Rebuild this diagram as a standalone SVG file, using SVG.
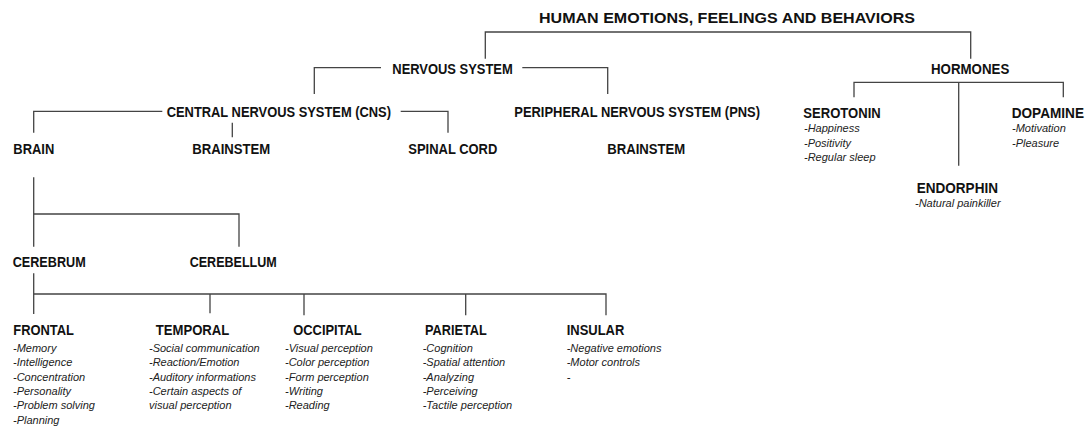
<svg xmlns="http://www.w3.org/2000/svg" width="1092" height="430" viewBox="0 0 1092 430">
<style>
.h{font-family:"Liberation Sans",Arial,sans-serif;font-weight:bold;font-size:14.5px;fill:#111}
.t{font-family:"Liberation Sans",Arial,sans-serif;font-weight:bold;font-size:15.5px;fill:#111}
.i{font-family:"Liberation Sans",Arial,sans-serif;font-style:italic;font-size:11px;fill:#222}
.c{fill:none;stroke:#444;stroke-width:1.3}
</style>
<rect width="1092" height="430" fill="#fff"/>
<g id="connectors">
<path class="c" d="M485.3,58.7V32H970.7V58.7"/>
<path class="c" d="M381,67.7H314.3V94"/>
<path class="c" d="M522.3,67.7H607.7V94"/>
<path class="c" d="M162.3,111.3H33.7V132.7"/>
<path class="c" d="M232.3,122.7V137.3"/>
<path class="c" d="M400.7,111.3H448V132.7"/>
<path class="c" d="M33.7,177.3V246.7M33.7,214H239V246.7"/>
<path class="c" d="M33.7,273.3V314M33.7,294H606V315.3M210,294V313.3M304,294V315.3M465.7,294V315.3"/>
<path class="c" d="M854,97.3V82.3H1063.3V97.3M958.7,82.3V165.7"/>
</g>
<g id="title"><text class="t" x="539" y="23" textLength="376" lengthAdjust="spacingAndGlyphs">HUMAN EMOTIONS, FEELINGS AND BEHAVIORS</text></g>
<g id="nervous-system"><text class="h" x="392.3" y="74" textLength="120.4" lengthAdjust="spacingAndGlyphs">NERVOUS SYSTEM</text></g>
<g id="hormones"><text class="h" x="931" y="74" textLength="78.3" lengthAdjust="spacingAndGlyphs">HORMONES</text></g>
<g id="cns"><text class="h" x="166.7" y="116.5" textLength="224.3" lengthAdjust="spacingAndGlyphs">CENTRAL NERVOUS SYSTEM (CNS)</text></g>
<g id="pns"><text class="h" x="514.3" y="116.5" textLength="245.7" lengthAdjust="spacingAndGlyphs">PERIPHERAL NERVOUS SYSTEM (PNS)</text></g>
<g id="brain"><text class="h" x="13.3" y="153.5" textLength="41" lengthAdjust="spacingAndGlyphs">BRAIN</text></g>
<g id="brainstem-cns"><text class="h" x="192.3" y="153.5" textLength="78" lengthAdjust="spacingAndGlyphs">BRAINSTEM</text></g>
<g id="spinal-cord"><text class="h" x="408.3" y="153.5" textLength="89" lengthAdjust="spacingAndGlyphs">SPINAL CORD</text></g>
<g id="brainstem-pns"><text class="h" x="607.3" y="153.5" textLength="78" lengthAdjust="spacingAndGlyphs">BRAINSTEM</text></g>
<g id="cerebrum"><text class="h" x="12.7" y="267" textLength="73" lengthAdjust="spacingAndGlyphs">CEREBRUM</text></g>
<g id="cerebellum"><text class="h" x="189.7" y="267" textLength="87" lengthAdjust="spacingAndGlyphs">CEREBELLUM</text></g>
<g id="frontal"><text class="h" x="13.3" y="335" textLength="60.7" lengthAdjust="spacingAndGlyphs">FRONTAL</text>
<text class="i" x="13" y="352">-Memory</text>
<text class="i" x="13" y="366.3">-Intelligence</text>
<text class="i" x="13" y="380.6">-Concentration</text>
<text class="i" x="13" y="394.9">-Personality</text>
<text class="i" x="13" y="409.2">-Problem solving</text>
<text class="i" x="13" y="423.5">-Planning</text></g>
<g id="temporal"><text class="h" x="155.7" y="335" textLength="73.6" lengthAdjust="spacingAndGlyphs">TEMPORAL</text>
<text class="i" x="149" y="352">-Social communication</text>
<text class="i" x="149" y="366.3">-Reaction/Emotion</text>
<text class="i" x="149" y="380.6">-Auditory informations</text>
<text class="i" x="149" y="394.9">-Certain aspects of</text>
<text class="i" x="149" y="409.2">visual perception</text></g>
<g id="occipital"><text class="h" x="293.3" y="335" textLength="68.4" lengthAdjust="spacingAndGlyphs">OCCIPITAL</text>
<text class="i" x="285" y="352">-Visual perception</text>
<text class="i" x="285" y="366.3">-Color perception</text>
<text class="i" x="285" y="380.6">-Form perception</text>
<text class="i" x="285" y="394.9">-Writing</text>
<text class="i" x="285" y="409.2">-Reading</text></g>
<g id="parietal"><text class="h" x="425" y="335" textLength="61.7" lengthAdjust="spacingAndGlyphs">PARIETAL</text>
<text class="i" x="422.7" y="352">-Cognition</text>
<text class="i" x="422.7" y="366.3">-Spatial attention</text>
<text class="i" x="422.7" y="380.6">-Analyzing</text>
<text class="i" x="422.7" y="394.9">-Perceiving</text>
<text class="i" x="422.7" y="409.2">-Tactile perception</text></g>
<g id="insular"><text class="h" x="566.7" y="335" textLength="57.6" lengthAdjust="spacingAndGlyphs">INSULAR</text>
<text class="i" x="566.7" y="352">-Negative emotions</text>
<text class="i" x="566.7" y="366.3">-Motor controls</text>
<text class="i" x="566.7" y="380.6">-</text></g>
<g id="serotonin"><text class="h" x="803.3" y="118" textLength="77.4" lengthAdjust="spacingAndGlyphs">SEROTONIN</text>
<text class="i" x="804" y="132.3">-Happiness</text>
<text class="i" x="804" y="146.6">-Positivity</text>
<text class="i" x="804" y="160.9">-Regular sleep</text></g>
<g id="dopamine"><text class="h" x="1011.7" y="118" textLength="72.3" lengthAdjust="spacingAndGlyphs">DOPAMINE</text>
<text class="i" x="1012" y="132.3">-Motivation</text>
<text class="i" x="1012" y="146.6">-Pleasure</text></g>
<g id="endorphin"><text class="h" x="916.7" y="192.5" textLength="81.3" lengthAdjust="spacingAndGlyphs">ENDORPHIN</text>
<text class="i" x="915" y="206.7">-Natural painkiller</text></g>
</svg>
